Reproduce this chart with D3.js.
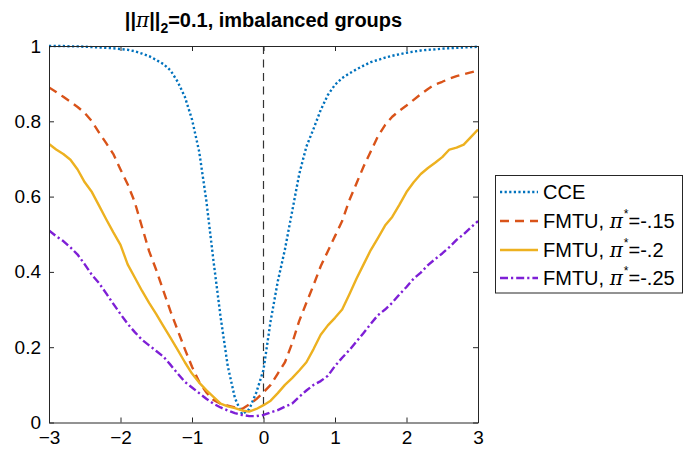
<!DOCTYPE html>
<html><head><meta charset="utf-8">
<script src="https://cdn.jsdelivr.net/npm/d3@7"></script>
<style>body{margin:0;background:#fff}svg{display:block}text{font-family:"Liberation Sans",Arial,Helvetica,sans-serif}</style>
</head><body>
<svg id="c" width="684" height="451"></svg>
<script>
const xs = d3.range(61).map(i => +(-3 + i*0.1).toFixed(1));
const cce = [1.0,1.0,1.0,0.999,0.999,0.998,0.997,0.996,0.995,0.994,0.992,0.99,0.986,0.98,0.973,0.963,0.952,0.935,0.905,0.865,0.805,0.72,0.59,0.43,0.28,0.15,0.065,0.022,0.035,0.08,0.14,0.27,0.375,0.46,0.56,0.66,0.733,0.78,0.83,0.87,0.897,0.915,0.927,0.938,0.948,0.957,0.963,0.969,0.974,0.978,0.982,0.985,0.988,0.99,0.991,0.993,0.994,0.995,0.996,0.997,0.998];
const fmtu15 = [0.89,0.878,0.865,0.852,0.838,0.822,0.8,0.77,0.742,0.713,0.672,0.633,0.585,0.52,0.455,0.405,0.35,0.295,0.245,0.195,0.148,0.108,0.08,0.06,0.05,0.045,0.04,0.036,0.048,0.062,0.08,0.1,0.13,0.16,0.21,0.27,0.318,0.365,0.415,0.455,0.495,0.535,0.59,0.635,0.68,0.72,0.76,0.79,0.812,0.828,0.842,0.857,0.872,0.886,0.898,0.905,0.913,0.92,0.925,0.93,0.935];
const fmtu20 = [0.74,0.725,0.713,0.698,0.672,0.638,0.612,0.576,0.54,0.505,0.472,0.42,0.385,0.35,0.318,0.288,0.256,0.225,0.193,0.16,0.13,0.106,0.086,0.068,0.05,0.043,0.038,0.032,0.029,0.036,0.046,0.058,0.078,0.1,0.118,0.138,0.16,0.195,0.233,0.258,0.278,0.3,0.34,0.382,0.42,0.458,0.49,0.523,0.546,0.578,0.612,0.638,0.66,0.676,0.69,0.705,0.725,0.73,0.738,0.758,0.778];
const fmtu25 = [0.51,0.495,0.482,0.465,0.446,0.42,0.392,0.37,0.343,0.315,0.288,0.262,0.24,0.22,0.205,0.19,0.175,0.153,0.13,0.108,0.093,0.078,0.063,0.05,0.04,0.032,0.025,0.02,0.017,0.017,0.02,0.027,0.033,0.042,0.05,0.068,0.085,0.1,0.11,0.124,0.15,0.172,0.192,0.215,0.238,0.262,0.285,0.3,0.318,0.34,0.36,0.382,0.398,0.418,0.434,0.449,0.466,0.485,0.5,0.518,0.535];
const xTicks = [-3,-2,-1,0,1,2,3];
const yTicks = [0,0.2,0.4,0.6,0.8,1];
const seriesNames = ["CCE","FMTU, ","FMTU, ","FMTU, "];
const seriesSuffix = ["","=-.15","=-.2","=-.25"];

const svg = d3.select("#c");
const L=49, R=478, T=46, B=422.5;
const x = d3.scaleLinear().domain([-3,3]).range([L,R]);
const y = d3.scaleLinear().domain([0,1]).range([B,T]);
const axisColor="#262626";

const series = [
  {v:cce, color:"#0072BD", dash:"2.2,2.4", w:2.4},
  {v:fmtu15, color:"#D95319", dash:"9,6", w:2.4},
  {v:fmtu20, color:"#EDB120", dash:null, w:2.4},
  {v:fmtu25, color:"#7E1FD6", dash:"8,3,2.2,3", w:2.4}
];

// zero line
svg.append("line").attr("x1",x(0)).attr("x2",x(0)).attr("y1",y(1)).attr("y2",y(0))
  .attr("stroke","#333").attr("stroke-width",1.2).attr("stroke-dasharray","8,5.5");

const line = d3.line().x((d,i)=>x(xs[i])).y(d=>y(d));
svg.append("clipPath").attr("id","cl").append("rect").attr("x",L).attr("y",T-2).attr("width",R-L).attr("height",B-T+4);
series.forEach(s=>{
  svg.append("path").datum(s.v).attr("d",line).attr("fill","none")
    .attr("stroke",s.color).attr("stroke-width",s.w).attr("stroke-linejoin","round")
    .attr("stroke-dasharray",s.dash).attr("clip-path","url(#cl)");
});

// axes
const ax = svg.append("g");
ax.append("g").attr("transform",`translate(0,${B})`)
  .call(d3.axisBottom(x).tickValues(xTicks).tickSizeInner(-5).tickSizeOuter(0).tickPadding(8).tickFormat(d3.format("d")));
ax.append("g").attr("transform",`translate(0,${T})`)
  .call(d3.axisTop(x).tickValues(xTicks).tickSizeInner(-5).tickSizeOuter(0).tickFormat(""));
ax.append("g").attr("transform",`translate(${L},0)`)
  .call(d3.axisLeft(y).tickValues(yTicks).tickSizeInner(-5).tickSizeOuter(0).tickPadding(8).tickFormat(d=>d===0||d===1?d3.format("d")(d):d3.format(".1f")(d)));
ax.append("g").attr("transform",`translate(${R},0)`)
  .call(d3.axisRight(y).tickValues(yTicks).tickSizeInner(-5).tickSizeOuter(0).tickFormat(""));
ax.selectAll(".domain").attr("stroke",axisColor).attr("stroke-width",1);
ax.selectAll(".tick line").attr("stroke",axisColor);
ax.selectAll(".tick text").attr("fill","#000").style("font-size","19px").style("font-family",'"Liberation Sans",Arial,sans-serif');

// title
const t = svg.append("text").attr("x",(L+R)/2).attr("y",27).attr("text-anchor","middle")
  .style("font-size","20px").style("font-weight","bold").attr("fill","#000");
t.append("tspan").text("||");
t.append("tspan").style("font-family",'"DejaVu Serif",serif').style("font-style","italic").style("font-weight","normal").text("π");
t.append("tspan").text("||");
t.append("tspan").attr("dy",6).style("font-size","14px").text("2");
t.append("tspan").attr("dy",-6).text("=0.1, imbalanced groups");

// legend
const lg = svg.append("g");
lg.append("rect").attr("x",495.5).attr("y",175.5).attr("width",187).attr("height",117.5)
  .attr("fill","#fff").attr("stroke",axisColor).attr("stroke-width",1);
const rowY = [192,221,250,278];
series.forEach((s,i)=>{
  lg.append("line").attr("x1",500).attr("x2",538).attr("y1",rowY[i]).attr("y2",rowY[i])
    .attr("stroke",s.color).attr("stroke-width",s.w).attr("stroke-dasharray",s.dash);
  const tx = lg.append("text").attr("x",543).attr("y",rowY[i]+7).style("font-size","20px").attr("fill","#000");
  tx.append("tspan").text(seriesNames[i]);
  if(i>0){
    tx.append("tspan").style("font-family",'"DejaVu Serif",serif').style("font-style","italic").text("π");
    tx.append("tspan").attr("dy",-10).attr("dx",1).style("font-size","12px").text("*");
    tx.append("tspan").attr("dy",10).text(seriesSuffix[i]);
  }
});
</script>
</body></html>
